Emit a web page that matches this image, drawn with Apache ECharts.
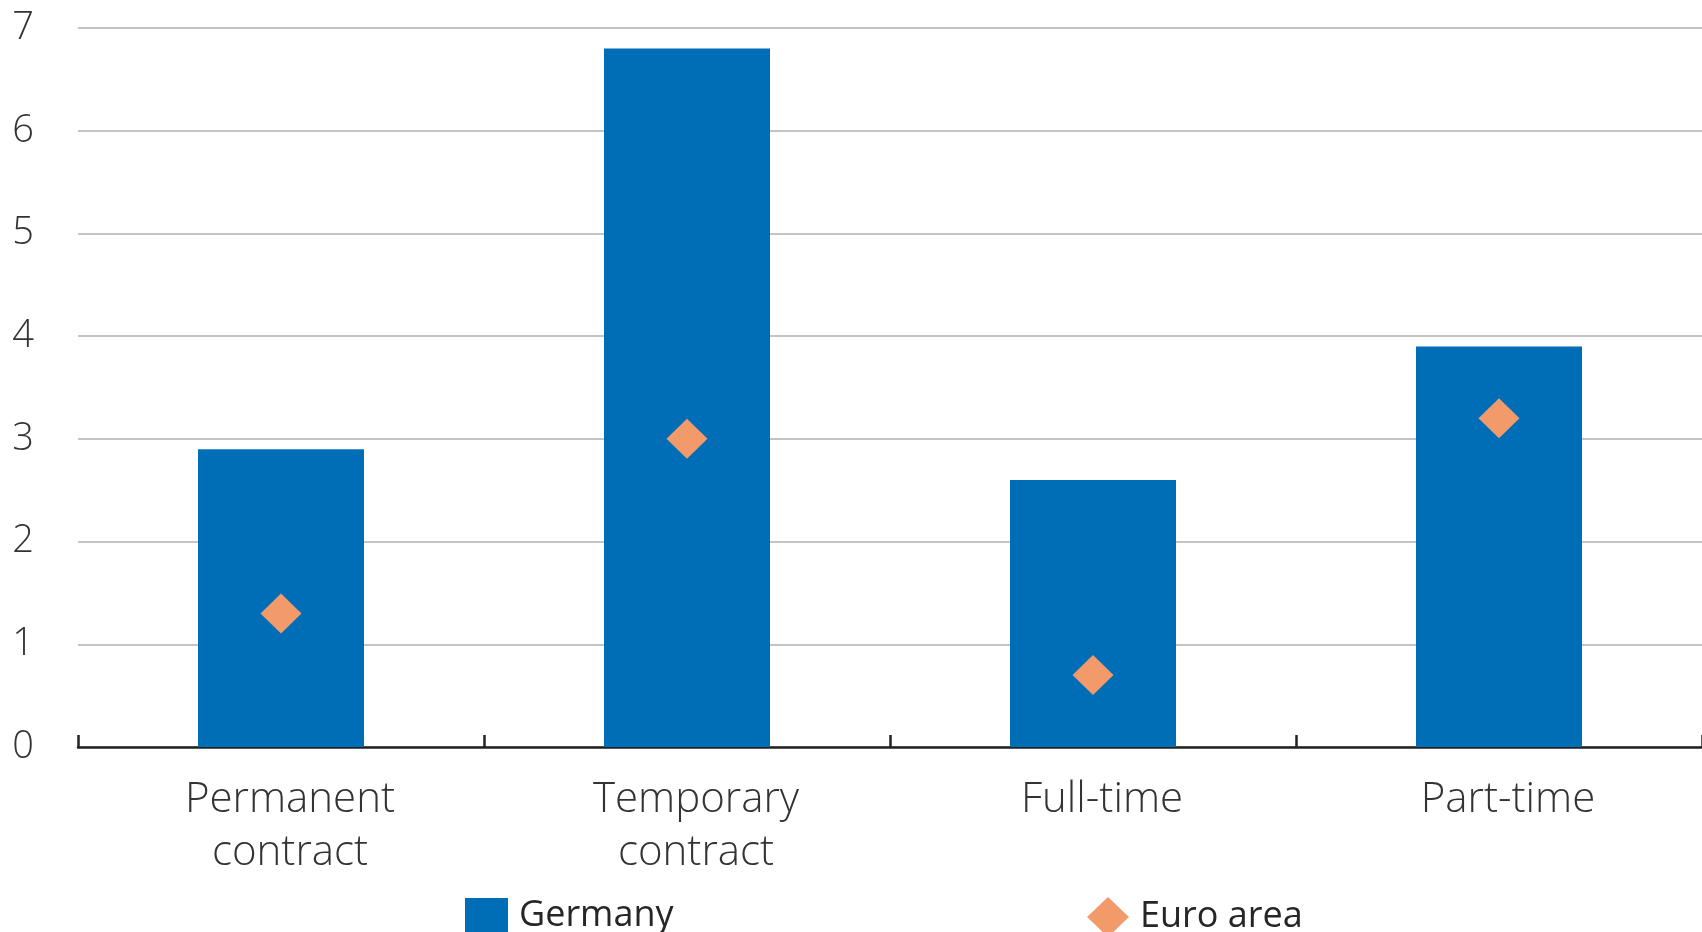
<!DOCTYPE html>
<html>
<head>
<meta charset="utf-8">
<title>Germany vs euro area</title>
<style>
  html, body { margin: 0; padding: 0; background: #fff; }
  #chart { width: 1702px; height: 932px; }
</style>
</head>
<body>
<div id="chart"></div>
<script src="https://cdn.jsdelivr.net/npm/echarts@6/dist/echarts.min.js"></script>
<script>
var categories = ['Permanent\ncontract', 'Temporary\ncontract', 'Full-time', 'Part-time'];
var germany = [2.9, 6.8, 2.6, 3.9];
var euroArea = [1.3, 3.0, 0.7, 3.2];
var yTicks = [0, 1, 2, 3, 4, 5, 6, 7];

var chart = echarts.init(document.getElementById('chart'));

var fontFam = '"Open Sans", "Noto Sans", sans-serif';

chart.setOption({
    animation: false,
    grid: { left: 78, right: 0, top: 28, bottom: 185 },
    legend: [
        {
            data: ['Germany'],
            left: 460, top: 893,
            icon: 'rect', itemWidth: 43, itemHeight: 36,
            textStyle: { fontFamily: fontFam, fontSize: 36, fontWeight: 500, color: '#262626', padding: [4, 0, 0, 6] }
        },
        {
            data: ['Euro area'],
            left: 1082, top: 892,
            icon: 'diamond', itemWidth: 42, itemHeight: 40,
            itemStyle: { opacity: 1 },
            textStyle: { fontFamily: fontFam, fontSize: 36, fontWeight: 500, color: '#262626', padding: [4, 0, 0, 6] }
        }
    ],
    xAxis: {
        type: 'category',
        data: categories,
        axisLine: { lineStyle: { color: '#222', width: 2.5 } },
        axisTick: { show: true, inside: true, length: 12, interval: 0, lineStyle: { color: '#222', width: 2.5 } },
        axisLabel: {
            fontFamily: fontFam, fontSize: 42, fontWeight: 300, color: '#333',
            lineHeight: 53, margin: 27, padding: [0, 0, 0, 18]
        }
    },
    yAxis: {
        type: 'value',
        min: yTicks[0], max: yTicks[yTicks.length - 1], interval: 1,
        axisLine: { show: false },
        axisTick: { show: false },
        axisLabel: {
            fontFamily: fontFam, fontSize: 38, fontWeight: 300, color: '#333',
            margin: 44, align: 'right',
            formatter: function (v) { return yTicks.indexOf(v) >= 0 ? String(v) : ''; }
        },
        splitLine: { lineStyle: { color: '#c4c4c4', width: 2 } }
    },
    series: [
        {
            name: 'Germany',
            type: 'bar',
            data: germany,
            barWidth: 166,
            itemStyle: { color: '#006eb7' },
            z: 2
        },
        {
            name: 'Euro area',
            type: 'scatter',
            data: euroArea,
            symbol: 'diamond',
            symbolSize: [41, 40],
            itemStyle: { color: '#f39a6a', opacity: 1 },
            z: 5
        }
    ]
});
</script>
</body>
</html>
